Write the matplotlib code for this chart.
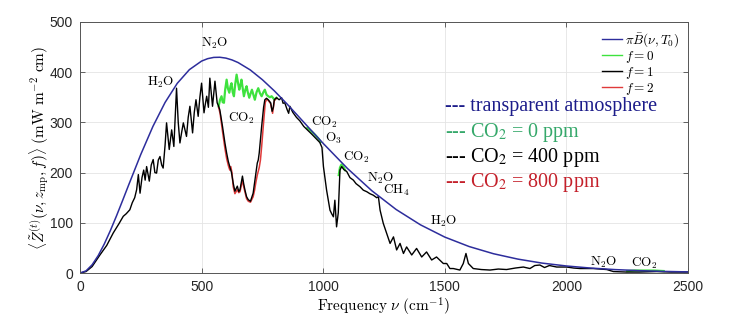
#!/usr/bin/python3
# -*- coding: utf-8 -*-
import matplotlib
matplotlib.use('Agg')
from matplotlib import pyplot as plt
from matplotlib.lines import Line2D

# Planck emission of the surface, pi*B(nu, T0) [mW m^-2 cm]
nu_planck = [0, 25, 50, 75, 100, 125, 150, 175, 200, 250, 300, 350, 400, 450, 500, 525, 550,
             575, 600, 625, 650, 700, 750, 800, 850, 900, 950, 1000, 1100, 1200, 1300, 1400,
             1500, 1600, 1700, 1800, 1900, 2000, 2100, 2200, 2300, 2400, 2500]
z_planck = [0, 4.4, 16.5, 34.8, 57.9, 84.6, 113.6, 144.1, 175.1, 236.1, 292.0, 339.7, 377.7,
            405.0, 422.0, 426.8, 429.3, 429.6, 427.9, 424.3, 419.1, 404.4, 384.9, 362.3, 337.3,
            311.0, 284.4, 258.1, 208.1, 163.9, 126.5, 96.0, 71.6, 52.8, 38.5, 27.8, 19.8, 14.1,
            9.9, 6.9, 4.8, 3.3, 2.3]

# f = 1 (present CO2 concentration), full spectrum
nu_f1 = [0, 25, 50, 82, 110, 137, 160, 178, 190, 205, 215, 225, 233, 240, 247, 255, 262, 268,
         274, 285, 293, 301, 308, 315, 322, 329, 336, 342, 350, 356, 367, 377, 386, 397, 404,
         411, 418, 425, 438, 445, 452, 463, 470, 477, 486, 493, 500, 510, 515, 521, 528, 534,
         545, 555, 564, 570, 575, 586, 596, 603, 610, 616, 623, 630, 637, 647, 653, 658, 668,
         673, 678, 685, 692, 701, 712, 718, 723, 729, 733, 737, 747, 755, 760, 767, 774, 784,
         790, 795, 799, 808, 819, 829, 835, 842, 852, 858, 863, 875, 890, 904, 920, 935, 952,
         970, 986, 995, 1001, 1014, 1028, 1035, 1042, 1048, 1055, 1062, 1069, 1076, 1085, 1097,
         1110, 1124, 1135, 1151, 1165, 1179, 1192, 1206, 1220, 1227, 1234, 1247, 1261, 1275,
         1289, 1302, 1316, 1330, 1343, 1364, 1384, 1405, 1425, 1446, 1466, 1494, 1508, 1521,
         1535, 1562, 1576, 1587, 1597, 1617, 1650, 1686, 1720, 1754, 1790, 1823, 1850, 1870,
         1891, 1910, 1930, 1960, 2001, 2030, 2056, 2111, 2166, 2193, 2248, 2300, 2371, 2430,
         2500]
z_f1 = [0, 3, 13, 36, 55, 80, 98, 113, 118, 126, 140, 150, 166, 196, 159, 190, 205, 185,
        212, 183, 215, 226, 200, 199, 225, 232, 215, 209, 255, 299, 246, 285, 252, 368, 300,
        259, 280, 299, 272, 310, 332, 279, 320, 345, 312, 350, 378, 319, 335, 352, 330, 388,
        332, 382, 339, 332, 325, 292, 259, 239, 222, 212, 200, 179, 163, 173, 162, 166, 193,
        178, 166, 152, 146, 143, 159, 180, 199, 219, 225, 239, 292, 330, 345, 348, 345, 339,
        322, 330, 345, 349, 345, 349, 338, 339, 325, 318, 332, 320, 310, 303, 292, 285, 277,
        268, 260, 250, 212, 165, 125, 118, 112, 145, 92, 120, 205, 212, 206, 202,
        190, 185, 178, 172, 165, 162, 158, 155, 150, 152, 125, 99, 79, 59,
        72, 46, 59, 39, 52, 36, 49, 32, 42, 26, 32, 19, 19, 9,
        9, 6, 19, 39, 19, 9, 7, 6, 8, 7, 10, 12, 9, 15,
        16, 11, 15, 12, 12, 10, 9, 9, 7, 3, 2, 2, 3, 2,
        2]

# f = 0 (no CO2), only where it departs from f = 1
nu_f0 = [570, 576, 582, 587, 592, 597, 603, 608, 614, 619, 623, 628, 633, 638, 644, 650, 655,
         660, 664, 669, 674, 680, 685, 690, 696, 702, 707, 713, 719, 726, 733, 740, 747, 754,
         760, 767, 774, 781, 788, 795, 800, 808]
z_f0 = [332, 345, 352, 340, 339, 365, 385, 368, 359, 372, 378, 360, 352, 375, 395, 378, 365,
        375, 385, 368, 352, 365, 372, 360, 349, 358, 365, 355, 345, 360, 368, 358, 352, 360,
        365, 355, 352, 350, 352, 348, 345, 349]
nu_f0_b = [935, 950, 965, 980, 990]
z_f0_b = [289, 283, 276, 268, 261]
nu_f0_c = [1064, 1069, 1075, 1082, 1090]
z_f0_c = [195, 210, 216, 212, 205]
nu_f0_d = [2250, 2280, 2320, 2360, 2400]
z_f0_d = [4, 5, 5, 5, 4]

# f = 2 (doubled CO2), 15 micron band
nu_f2 = [570, 576, 586, 596, 603, 610, 616, 620, 625, 630, 637, 647, 653, 658, 668, 673, 678,
         685, 692, 701, 712, 718, 723, 729, 737, 742, 747, 755, 762, 768, 774, 784, 792, 799,
         808]
z_f2 = [330, 318, 282, 248, 228, 214, 205, 212, 200, 172, 158, 166, 160, 162, 185, 172, 162,
        148, 143, 141, 152, 165, 180, 195, 210, 225, 252, 300, 340, 346, 344, 337, 318, 343,
        348]

# absorber labels (text, nu, z)
band_labels = [('N_2O', 555, 458), ('H_2O', 333, 380), ('CO_2', 662, 307), ('CO_2', 1003, 301),
               ('O_3', 1044, 269), ('CO_2', 1135, 231), ('N_2O', 1237, 189), ('CH_4', 1302, 165),
               ('H_2O', 1497, 102), ('N_2O', 2155, 22), ('CO_2', 2319, 20)]

scenario_labels = ['--- transparent atmosphere', '--- CO$_2$ = 0 ppm',
                   '--- CO$_2$ = 400 ppm', '--- CO$_2$ = 800 ppm']

c_planck = '#2d2d9c'
c_f0 = '#3ee23e'
c_f1 = 'black'
c_f2 = '#e03a3a'
text_colors = ['#1c1c8a', '#35a86a', 'black', '#c4202a']


def plot_spectrum(file_name='out.png'):

    fig = plt.figure(figsize=(7.31, 3.22), dpi=100)
    ax = fig.add_axes([0.1094, 0.152, 0.8318, 0.780])

    ax.plot(nu_f0, z_f0, color=c_f0, lw=1.6)
    for nu, z in [(nu_f0_b, z_f0_b), (nu_f0_c, z_f0_c), (nu_f0_d, z_f0_d)]:
        ax.plot(nu, z, color=c_f0, lw=1.6)
    ax.plot(nu_f2, z_f2, color=c_f2, lw=1.1)
    ax.plot(nu_f1, z_f1, color=c_f1, lw=1.0)
    ax.plot(nu_planck, z_planck, color=c_planck, lw=1.1)

    ax.set_xlim(0, 2500)
    ax.set_ylim(0, 500)
    ax.set_xticks([0, 500, 1000, 1500, 2000, 2500])
    ax.set_yticks([0, 100, 200, 300, 400, 500])
    ax.grid(True, color='#e4e4e4', lw=0.6)
    ax.set_axisbelow(True)
    ax.tick_params(direction='in', top=True, right=True, length=3.5, width=0.6,
                   colors='#4a4a4a', labelcolor='#262626', labelsize=10, pad=5)
    for lab in ax.get_xticklabels() + ax.get_yticklabels():
        lab.set_family('Liberation Sans')
    for s in ax.spines.values():
        s.set_color('#555555')
        s.set_linewidth(0.7)

    ax.set_xlabel(r'${\rm Frequency}\ \nu\ ({\rm cm}^{-1})$', fontsize=11,
                  math_fontfamily='cm', labelpad=1)
    ax.set_ylabel(r'$\langle\tilde{Z}^{(t)}(\nu, z_{\rm mp}, f)\rangle\ ({\rm mW\ m^{-2}\ cm})$',
                  fontsize=11, math_fontfamily='cm', labelpad=-1)

    for txt, nu, z in band_labels:
        ax.text(nu, z, r'${\rm %s}$' % txt, fontsize=9.5, math_fontfamily='cm',
                ha='center', va='center')

    # small legend, top right
    handles = [Line2D([], [], color=c, lw=1.0) for c in [c_planck, c_f0, c_f1, c_f2]]
    labels = [r'$\pi\bar{B}(\nu, T_0)$', r'$f = 0$', r'$f = 1$', r'$f = 2$']
    ax.legend(handles, labels, loc='upper right', frameon=False,
              handlelength=1.5, handletextpad=0.2, labelspacing=0.0,
              borderaxespad=0.3, prop={'math_fontfamily': 'cm', 'size': 9.5})

    # scenario key
    for i, (txt, c) in enumerate(zip(scenario_labels, text_colors)):
        ax.text(1500, 331 - 50.5 * i, txt, color=c, fontsize=14.5, family='Liberation Serif',
                math_fontfamily='stix', ha='left', va='center')

    plt.savefig(file_name, dpi=100)
    plt.close()


if __name__ == '__main__':
    plot_spectrum('out.png')
